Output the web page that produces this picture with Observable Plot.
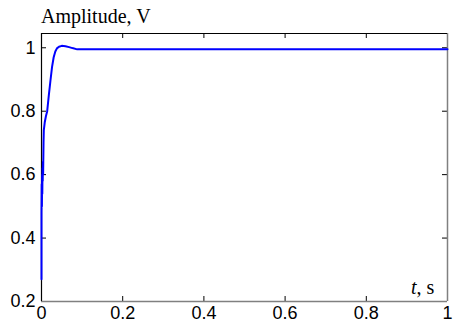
<!DOCTYPE html>
<html>
<head>
<meta charset="utf-8">
<script src="https://cdn.jsdelivr.net/npm/d3@7"></script>
<script src="https://cdn.jsdelivr.net/npm/@observablehq/plot@0.6"></script>
<style>
  body { margin: 0; background: #fff; }
  #wrap { position: relative; width: 454px; height: 322px; }
  .lbl { position: absolute; font-family: "Liberation Serif", "Times New Roman", serif; font-size: 20px; color: #000; white-space: nowrap; line-height: 1; }
</style>
</head>
<body>
<div id="wrap">
  <div id="chart"></div>
  <div class="lbl" style="left:41px; top:6px;">Amplitude, V</div>
  <div class="lbl" style="left:411px; top:277px;"><i>t</i>, s</div>
</div>
<script>
// time (s)
const time = [0, 0, 0.0005, 0.001, 0.0015, 0.002, 0.0025, 0.003, 0.0035, 0.004, 0.005, 0.0057, 0.008, 0.011, 0.014, 0.018, 0.022, 0.026, 0.030, 0.034, 0.038, 0.043, 0.050, 0.059, 0.068, 0.076, 0.088, 0.2, 0.4, 0.6, 0.8, 1.0];
// amplitude (V)
const amplitude = [0.27, 0.48, 0.57, 0.50, 0.60, 0.54, 0.62, 0.58, 0.64, 0.60, 0.70, 0.74, 0.765, 0.785, 0.80, 0.85, 0.896, 0.94, 0.97, 0.988, 0.998, 1.003, 1.006, 1.005, 1.002, 0.999, 0.995, 0.995, 0.995, 0.995, 0.995, 0.995];

const xTicks = [0, 0.2, 0.4, 0.6, 0.8, 1];
const xTickLabels = ["0", "0.2", "0.4", "0.6", "0.8", "1"];
const yTicks = [0.2, 0.4, 0.6, 0.8, 1];
const yTickLabels = ["0.2", "0.4", "0.6", "0.8", "1"];
const xDomain = [0, 1];
const yDomain = [0.2, 1.045];

const data = time.map((t, i) => ({t, v: amplitude[i]}));

const W = 454, H = 322, ML = 41, MR = 7, MT = 33, MB = 21, TICK = 5;
const innerW = W - ML - MR, innerH = H - MT - MB;

const chart = Plot.plot({
  width: W,
  height: H,
  marginLeft: ML,
  marginRight: MR,
  marginTop: MT,
  marginBottom: MB,
  style: {fontFamily: "'Liberation Sans', Arial, sans-serif", fontSize: "18px", color: "#000", background: "#fff", overflow: "visible"},
  x: {domain: xDomain},
  y: {domain: yDomain},
  marks: [
    Plot.axisX({anchor: "bottom", ticks: xTicks, tickFormat: (d) => xTickLabels[xTicks.indexOf(d)], tickSize: 0, tickPadding: 5, label: null, fontSize: 18}),
    Plot.axisY({anchor: "left", ticks: yTicks, tickFormat: (d) => yTickLabels[yTicks.indexOf(d)], tickSize: 0, tickPadding: 6, label: null, fontSize: 18}),
    // inward ticks
    Plot.tickX(xTicks, {x: (d) => d, insetTop: innerH - TICK, stroke: "#000"}),
    Plot.tickX(xTicks, {x: (d) => d, insetBottom: innerH - TICK, stroke: "#000"}),
    Plot.tickY(yTicks, {y: (d) => d, insetRight: innerW - TICK, stroke: "#000"}),
    Plot.tickY(yTicks, {y: (d) => d, insetLeft: innerW - TICK, stroke: "#000"}),
    Plot.ruleY([yDomain[0]], {stroke: "#808080", strokeWidth: 1.5}),
    Plot.ruleX([xDomain[1]], {stroke: "#808080", strokeWidth: 1.5}),
    Plot.ruleY([yDomain[1]], {stroke: "#000", strokeWidth: 1.2}),
    Plot.ruleX([xDomain[0]], {stroke: "#000", strokeWidth: 1.2}),
    Plot.line(data, {x: "t", y: "v", stroke: "#0000ff", strokeWidth: 2, curve: "linear"})
  ]
});
document.getElementById("chart").appendChild(chart);
</script>
</body>
</html>
